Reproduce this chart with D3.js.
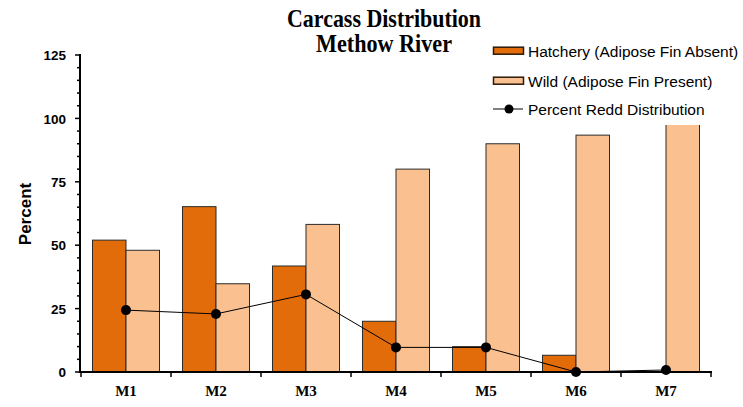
<!DOCTYPE html>
<html>
<head>
<meta charset="utf-8">
<script src="https://cdn.jsdelivr.net/npm/d3@7"></script>
<style>
  html, body { margin: 0; padding: 0; background: #fff; }
  svg { display: block; }
</style>
</head>
<body>
<svg id="chart" width="743" height="407"></svg>
<script>
const categories = ["M1", "M2", "M3", "M4", "M5", "M6", "M7"];
const hatchery = [52, 65.2, 41.8, 20, 10, 6.6, 0];
const wild = [48, 34.8, 58.2, 80, 90, 93.4, 100];
const redd = [24.4, 22.9, 30.6, 9.7, 9.7, 0, 0.8];
const yTicks = [0, 25, 50, 75, 100, 125];
const seriesNames = ["Hatchery (Adipose Fin Absent)", "Wild (Adipose Fin Present)", "Percent Redd Distribution"];
const titleLines = ["Carcass Distribution", "Methow River"];

const svg = d3.select("#chart");
const colors = { hatchery: "#E36C0A", wild: "#FAC090" };

const x = d3.scaleBand().domain(categories).range([81, 711]).paddingInner(0).paddingOuter(0);
const x1 = d3.scaleBand().domain(["hatchery", "wild"]).range([0, x.bandwidth()]).paddingInner(0).paddingOuter(0.343);
const y = d3.scaleLinear().domain([0, 125]).range([372, 55]);

// Bars
const rows = categories.map((c, i) => ({ cat: c, hatchery: hatchery[i], wild: wild[i], redd: redd[i] }));
const g = svg.append("g");
["hatchery", "wild"].forEach(key => {
  g.selectAll("rect." + key).data(rows).enter().append("rect")
    .attr("class", key)
    .attr("x", d => x(d.cat) + x1(key))
    .attr("width", x1.bandwidth())
    .attr("y", d => y(d[key]))
    .attr("height", d => y(0) - y(d[key]))
    .attr("fill", colors[key])
    .attr("stroke", d => d[key] > 0 ? "#2b2b2b" : "none")
    .attr("stroke-width", 1);
});

// Line
const line = d3.line().x(d => x(d.cat) + x.bandwidth() / 2).y(d => y(d.redd));
svg.append("path").datum(rows).attr("d", line).attr("fill", "none").attr("stroke", "#000").attr("stroke-width", 1);
svg.selectAll("circle.pt").data(rows).enter().append("circle")
  .attr("class", "pt")
  .attr("cx", d => x(d.cat) + x.bandwidth() / 2)
  .attr("cy", d => y(d.redd))
  .attr("r", 5).attr("fill", "#000");

// Y axis
const minorTicks = d3.range(0, 126, 5);
svg.append("g").selectAll("line").data(minorTicks).enter().append("line")
  .attr("x1", d => yTicks.includes(d) ? 75 : 77).attr("x2", 80)
  .attr("y1", d => y(d)).attr("y2", d => y(d))
  .attr("stroke", "#000").attr("stroke-width", 1.5);
const yAxis = d3.axisLeft(y).tickValues(yTicks).tickSize(0).tickPadding(0);
const yg = svg.append("g").attr("transform", "translate(66,0)").call(yAxis);
yg.select(".domain").remove();
yg.selectAll("text").attr("font-family", "Liberation Sans, Arial, sans-serif").attr("font-weight", "bold").attr("font-size", 13.5).attr("fill", "#000").attr("dy", "0.35em");
svg.append("line").attr("x1", 80).attr("x2", 80).attr("y1", y(125) - 1).attr("y2", y(0) + 1).attr("stroke", "#000").attr("stroke-width", 2);

// X axis
const xg = svg.append("g").attr("transform", "translate(0,372)");
xg.append("line").attr("x1", 79).attr("x2", 712).attr("stroke", "#000").attr("stroke-width", 2);
const bounds = categories.map(c => x(c)).concat([x(categories[categories.length - 1]) + x.bandwidth()]);
xg.selectAll("line.tk").data(bounds).enter().append("line").attr("class", "tk")
  .attr("x1", d => d).attr("x2", d => d).attr("y1", 0).attr("y2", 5)
  .attr("stroke", "#000").attr("stroke-width", 1.5);
xg.selectAll("text").data(categories).enter().append("text")
  .attr("x", d => x(d) + x.bandwidth() / 2).attr("y", 24)
  .attr("text-anchor", "middle")
  .attr("font-family", "Liberation Serif, Times New Roman, serif").attr("font-weight", "bold").attr("font-size", 15)
  .text(d => d);

// Y label
svg.append("text").attr("transform", "translate(31,214) rotate(-90)")
  .attr("text-anchor", "middle")
  .attr("font-family", "Liberation Sans, Arial, sans-serif").attr("font-weight", "bold").attr("font-size", 17)
  .text("Percent");

// Title
const tl = [194, 136];
titleLines.forEach((t, i) => {
  svg.append("text").attr("x", 384).attr("y", 26.7 + i * 25)
    .attr("text-anchor", "middle")
    .attr("font-family", "Liberation Serif, Times New Roman, serif").attr("font-weight", "bold").attr("font-size", 25)
    .attr("textLength", tl[i]).attr("lengthAdjust", "spacingAndGlyphs")
    .text(t);
});

// Legend (white background covers top of tall bar)
const lg = svg.append("g");
lg.append("rect").attr("x", 488).attr("y", 36).attr("width", 255).attr("height", 89).attr("fill", "#fff");
const legRows = [56.7, 86.7, 115];
[["hatchery", 0], ["wild", 1]].forEach(([k, i]) => {
  lg.append("rect").attr("x", 493.5).attr("y", legRows[i] - 9.5).attr("width", 30).attr("height", 7)
    .attr("fill", colors[k]).attr("stroke", "#2b1a0a").attr("stroke-width", 1.5);
});
lg.append("line").attr("x1", 493).attr("x2", 523).attr("y1", legRows[2] - 6).attr("y2", legRows[2] - 6).attr("stroke", "#000").attr("stroke-width", 1);
lg.append("circle").attr("cx", 509).attr("cy", legRows[2] - 6).attr("r", 4.5).attr("fill", "#000");
seriesNames.forEach((n, i) => {
  lg.append("text").attr("x", 528).attr("y", legRows[i])
    .attr("font-family", "Liberation Sans, Arial, sans-serif").attr("font-size", 15.5)
    .text(n);
});
</script>
</body>
</html>
